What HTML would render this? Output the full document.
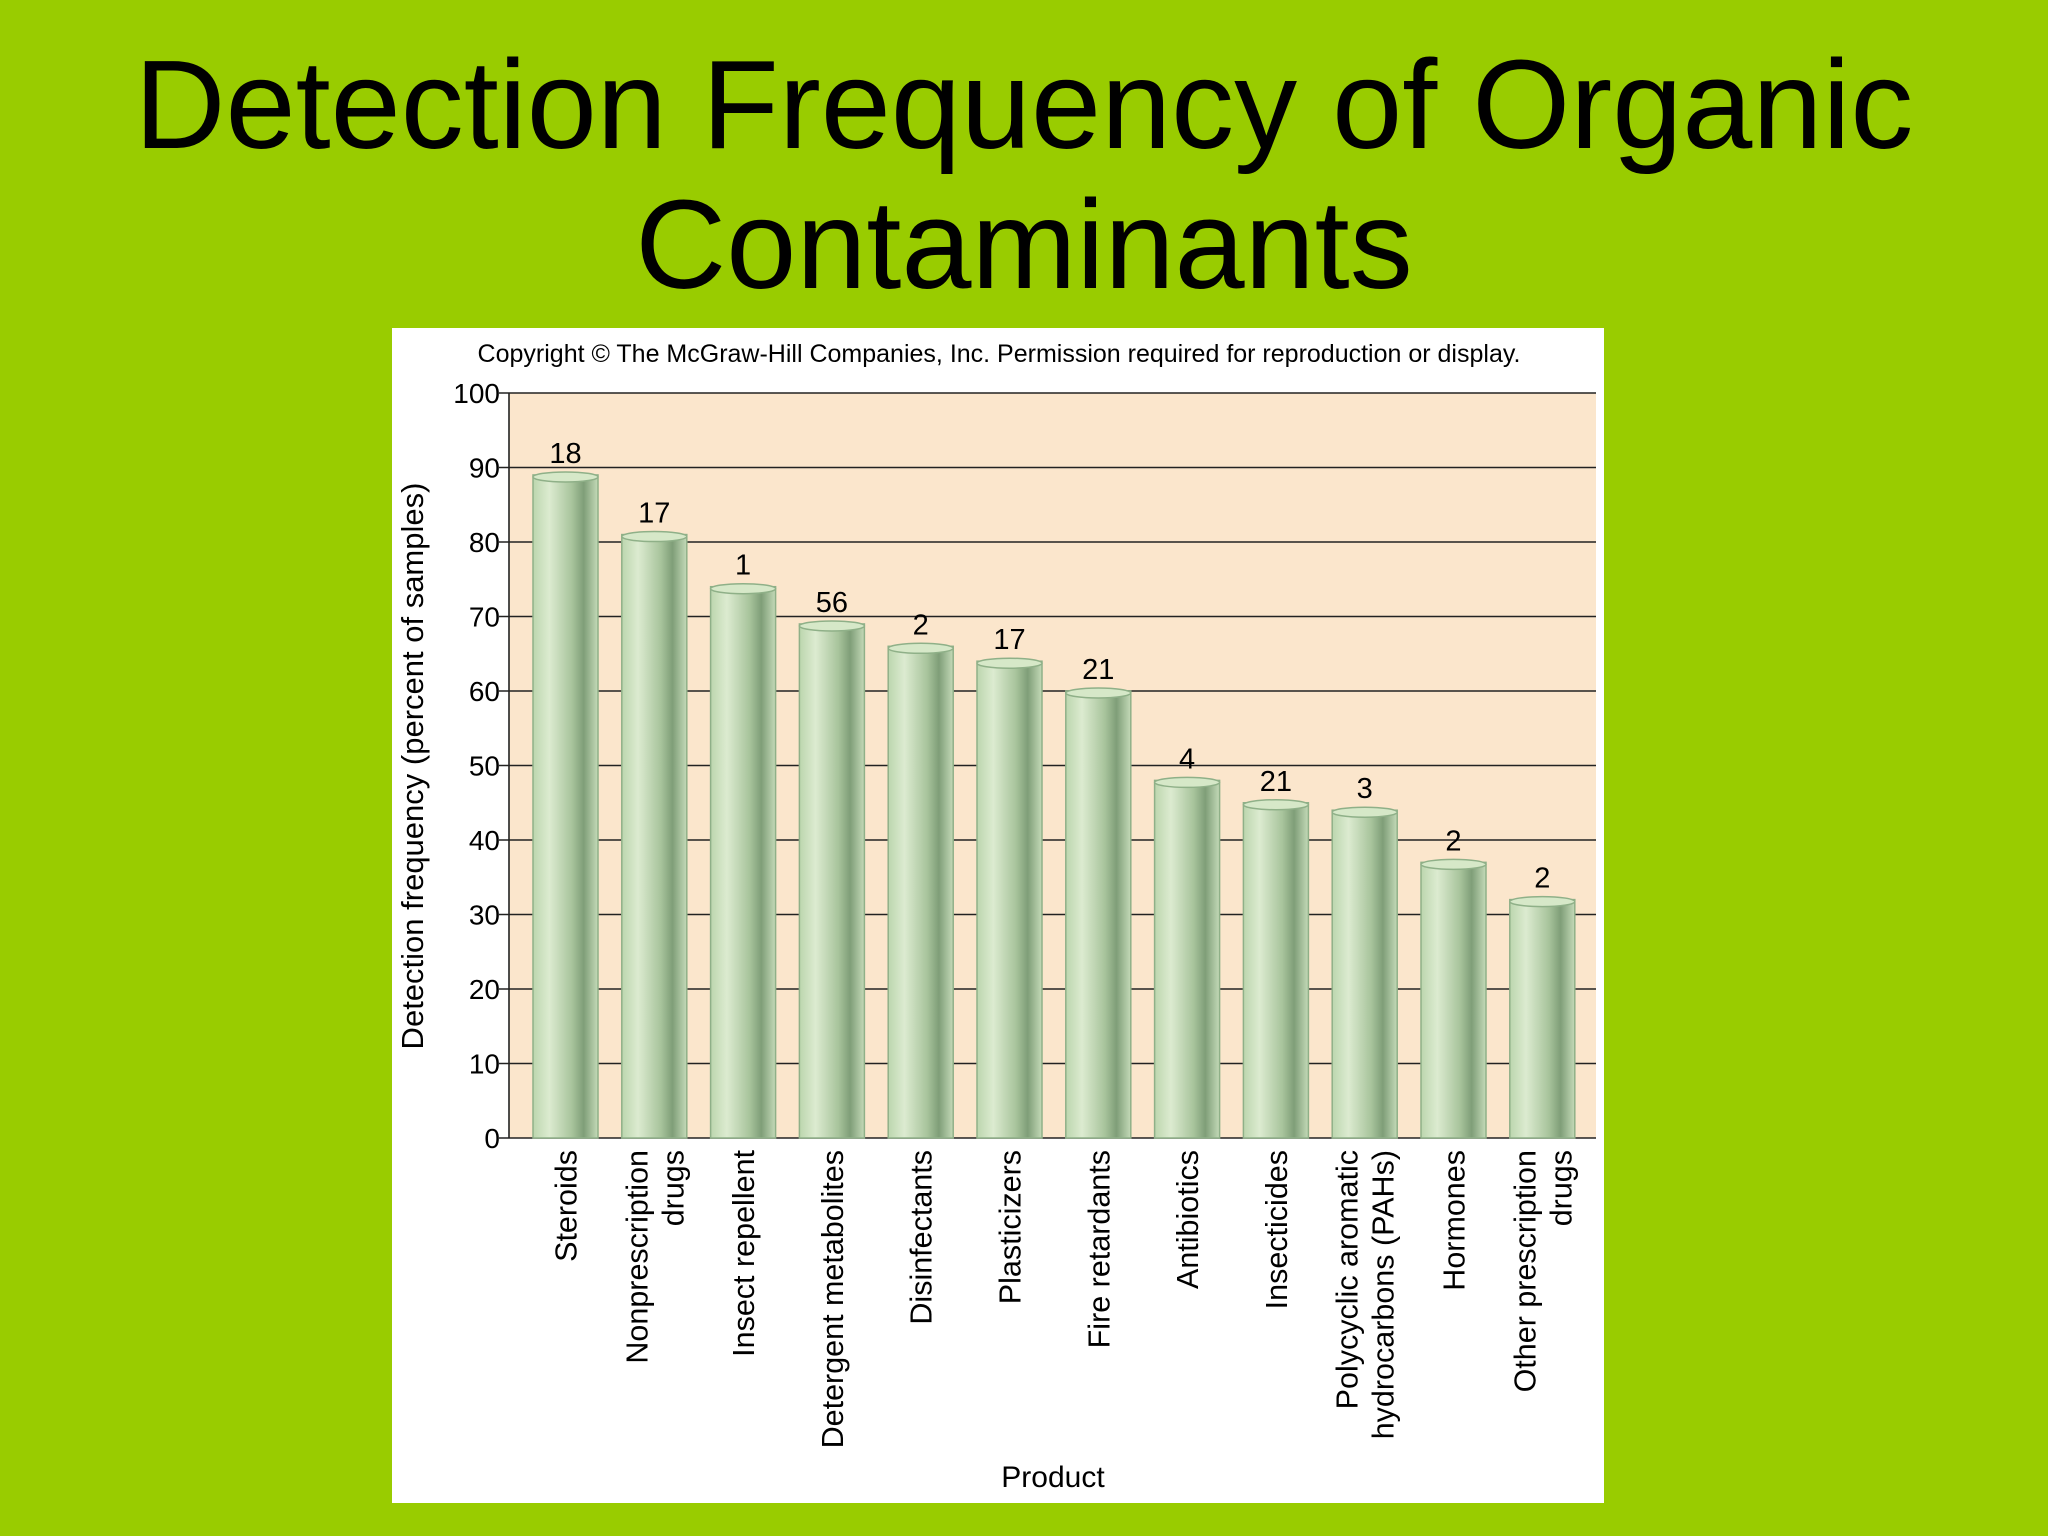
<!DOCTYPE html>
<html><head><meta charset="utf-8"><style>
html,body{margin:0;padding:0;background:#99cc00;}
svg{display:block;font-family:"Liberation Sans",sans-serif;}
</style></head><body>
<svg id="c" width="2048" height="1536" viewBox="0 0 2048 1536">
<defs>
<linearGradient id="bg" x1="0" x2="1" y1="0" y2="0">
<stop offset="0" stop-color="#bcd6ae"/><stop offset="0.25" stop-color="#dcebd0"/>
<stop offset="0.6" stop-color="#a8c49c"/><stop offset="0.78" stop-color="#7f9e78"/>
<stop offset="1" stop-color="#c4dab8"/></linearGradient>
</defs>
<rect width="2048" height="1536" fill="#99cc00"/>
<text x="1024" y="148" font-size="126" text-anchor="middle">Detection Frequency of Organic</text>
<text x="1024" y="288" font-size="126" text-anchor="middle">Contaminants</text>
<rect x="392" y="328" width="1212" height="1175" fill="#fff"/>
<text x="999" y="362" font-size="25" text-anchor="middle">Copyright © The McGraw-Hill Companies, Inc. Permission required for reproduction or display.</text>
<rect x="509" y="393" width="1087" height="745" fill="#fbe6cc"/>
<g id="grid"></g><g id="bars"></g><g id="labels"></g>
<text transform="translate(423,766) rotate(-90)" font-size="31" text-anchor="middle">Detection frequency (percent of samples)</text>
<text x="1053" y="1487" font-size="30" text-anchor="middle">Product</text>
</svg>
<script>
const categories=[["Steroids"],["Nonprescription","drugs"],["Insect repellent"],["Detergent metabolites"],["Disinfectants"],["Plasticizers"],["Fire retardants"],["Antibiotics"],["Insecticides"],["Polycyclic aromatic","hydrocarbons (PAHs)"],["Hormones"],["Other prescription","drugs"]];
const values=[89,81,74,69,66,64,60,48,45,44,37,32];
const counts=["18","17","1","56","2","17","21","4","21","3","2","2"];
const ticks=[0,10,20,30,40,50,60,70,80,90,100];
const NS="http://www.w3.org/2000/svg";
const y0=1138,y1=393,xL=509,xR=1596;
const ys=v=>y0-(y0-y1)*v/100;
const xs=i=>565.5+i*88.8;
function mk(t,a,p){const e=document.createElementNS(NS,t);for(const k in a)e.setAttribute(k,a[k]);p.appendChild(e);return e;}
const grid=document.getElementById('grid'),bars=document.getElementById('bars'),labels=document.getElementById('labels');
ticks.forEach(t=>{
 const l=mk('line',{x1:xL-10,x2:xR,y1:ys(t),y2:ys(t),stroke:'#222','stroke-width':1.6},grid);
 
 
 const tx=mk('text',{x:500,y:ys(t)+10,'font-size':28,'text-anchor':'end'},grid);
 tx.textContent=t;
 
 
});
mk('line',{x1:xL,x2:xL,y1:y1,y2:y0,stroke:'#222','stroke-width':1.6},grid);
const w=65;
values.forEach((v,i)=>{
 const cx=xs(i),top=ys(v);
 const g=mk('g',{},bars);
 
 
 mk('rect',{x:cx-w/2,y:top,width:w,height:y0-top,fill:'url(#bg)',stroke:'#8fb088','stroke-width':1.5},g);
 mk('ellipse',{cx:cx,cy:top+2,rx:w/2,ry:5,fill:'#d6e8c8',stroke:'#8fb088','stroke-width':1.5},g);
 const c=mk('text',{x:cx,y:top-12,'font-size':29,'text-anchor':'middle'},labels);
 c.textContent=counts[i];
 
 
 const lines=categories[i];
 lines.forEach((s,j)=>{
  const off=(j-(lines.length-1)/2)*36;
  const t=mk('text',{transform:`translate(${cx+off+11},1150) rotate(-90)`,'font-size':30.5,'text-anchor':'end'},labels);
  t.textContent=s;
  
  
 });
});
</script>
</body></html>
